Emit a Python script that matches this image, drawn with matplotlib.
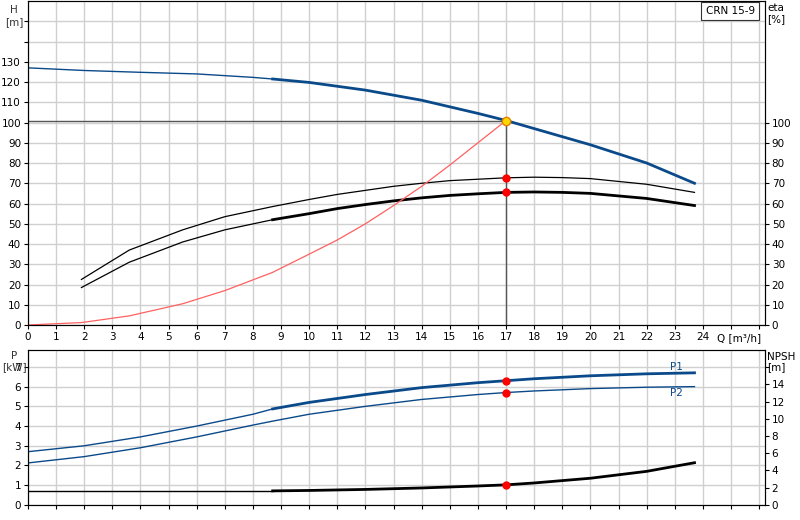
import matplotlib
matplotlib.use("Agg")
import matplotlib.pyplot as plt

q_h = [0, 2, 4, 6, 8, 8.7, 10, 12, 14, 16, 17, 18, 20, 22, 23.7]
h = [127, 125.7, 124.8, 124, 122.3, 121.5, 119.8, 116, 111, 104.5, 101, 97, 89, 80, 70]
q_e = [1.9, 3.6, 5.5, 7, 8.7, 10, 11, 12, 13, 14, 15, 16, 17, 18, 19, 20, 22, 23.7]
eta_lo = [18.5, 31, 41, 47, 52, 55, 57.5, 59.5, 61.3, 62.8, 64, 64.8, 65.5, 65.7, 65.5, 65, 62.5, 59]
eta_hi = [22.5, 37, 47, 53.5, 58.5, 62, 64.5, 66.5, 68.5, 70, 71.3, 72, 72.7, 73, 72.8, 72.3, 69.5, 65.5]
q_s = [0, 1.9, 3.6, 5.5, 7, 8.7, 10, 11, 12, 13, 14, 15, 16, 17]
sys_h = [0, 1.2, 4.5, 10.5, 17, 26, 35, 42, 50, 59, 68.5, 79, 90, 101]
q_p = [0, 2, 4, 6, 8, 8.7, 10, 12, 14, 16, 17, 18, 20, 22, 23.7]
p1 = [2.7, 3.0, 3.45, 4.0, 4.6, 4.87, 5.2, 5.6, 5.95, 6.2, 6.3, 6.4, 6.55, 6.65, 6.7]
p2 = [2.13, 2.45, 2.9, 3.45, 4.05, 4.25, 4.6, 5.0, 5.35, 5.6, 5.7, 5.78, 5.9, 5.97, 6.0]
q_n = [0, 8.7, 10, 12, 14, 16, 17, 18, 20, 22, 23.7]
npsh = [1.63, 1.63, 1.68, 1.8, 1.97, 2.2, 2.33, 2.55, 3.1, 3.9, 4.9]
q_op = 17
h_op = 101

blue = "#0b4a8a"
fig = plt.figure(figsize=(8, 5.2), dpi=100)
ax = fig.add_axes([0.035, 0.375, 0.921, 0.623])
bx = fig.add_axes([0.035, 0.029, 0.921, 0.298])
for a in (ax, bx):
    a.set_xlim(0, 26.2)
    a.set_xticks(range(0, 27))
    a.grid(True, color="#d0d0d0", lw=1)
    a.set_axisbelow(True)
    a.tick_params(labelsize=7.5, length=3, pad=2)
    for s in a.spines.values():
        s.set_color("#333333")

def split(x, y, b):
    i = x.index(b)
    return (x[:i+1], y[:i+1]), (x[i:], y[i:])

ax.set_ylim(0, 160)
ax.set_yticks(range(0, 151, 10))
ax.set_yticklabels([str(v) if v <= 130 else "" for v in range(0, 151, 10)])
ax.set_xticklabels([str(v) if v <= 24 else "" for v in range(27)])
ax.text(25.3, -4, "Q [m³/h]", fontsize=7.5, ha="center", va="top")
(a1, b1), (a2, b2) = split(q_h, h, 8.7)
ax.plot(a1, b1, color=blue, lw=1)
ax.plot(a2, b2, color=blue, lw=2)
ax.plot(q_e, eta_hi, color="black", lw=0.9)
(a1, b1), (a2, b2) = split(q_e, eta_lo, 8.7)
ax.plot(a1, b1, color="black", lw=0.9)
ax.plot(a2, b2, color="black", lw=2)
ax.plot(q_s, sys_h, color="#ff6060", lw=0.9)
ax.plot([0, q_op], [h_op, h_op], color="#555555", lw=1)
ax.plot([q_op, q_op], [0, h_op], color="#555555", lw=1)
ax.plot([q_op], [h_op], "o", color="#ffd700", mec="#e08000", ms=6, zorder=5)
ax.plot([q_op, q_op], [72.7, 65.5], "o", color="red", ms=5, zorder=5)
ax.text(-0.5, 158, "H\n[m]", fontsize=7.5, ha="center", va="top", color="#333333")
ax2 = ax.twinx()
ax2.set_ylim(0, 160)
ax2.set_yticks(range(0, 101, 10))
ax2.tick_params(labelsize=7.5, length=3, pad=2)
ax2.text(1.003, 0.995, "eta\n[%]", transform=ax.transAxes, fontsize=7.5, va="top", ha="left")
ax.text(0.953, 0.985, "CRN 15-9", transform=ax.transAxes, fontsize=7.5, ha="center", va="top",
        bbox=dict(boxstyle="square,pad=0.4", fc="white", ec="#333333", lw=0.8))

bx.set_ylim(0, 7.86)
bx.set_yticks(range(0, 8))
bx.set_xticklabels([])
(a1, b1), (a2, b2) = split(q_p, p1, 8.7)
bx.plot(a1, b1, color=blue, lw=1)
bx.plot(a2, b2, color=blue, lw=2)
bx.plot(q_p, p2, color=blue, lw=1)
bx.text(23.3, 7.0, "P1", color=blue, fontsize=7.5, ha="right", va="center")
bx.text(23.3, 5.7, "P2", color=blue, fontsize=7.5, ha="right", va="center")
bx.plot([q_op, q_op], [p1[q_p.index(q_op)], p2[q_p.index(q_op)]], "o", color="red", ms=5, zorder=5)
bx.text(-0.5, 7.8, "P\n[kW]", fontsize=7.5, ha="center", va="top", color="#333333", linespacing=1.1)
bx2 = bx.twinx()
bx2.set_ylim(0, 18)
bx2.set_yticks(range(0, 17, 2))
bx2.set_yticklabels([str(v) if v <= 14 else "" for v in range(0, 17, 2)])
bx2.tick_params(labelsize=7.5, length=3, pad=2)
(a1, b1), (a2, b2) = split(q_n, npsh, 8.7)
bx2.plot(a1, b1, color="black", lw=1)
bx2.plot(a2, b2, color="black", lw=2)
bx2.plot([q_op], [npsh[q_n.index(q_op)]], "o", color="red", ms=5, zorder=5)
bx2.text(1.003, 0.99, "NPSH\n[m]", transform=bx.transAxes, fontsize=7.5, va="top", ha="left", linespacing=1.1)

fig.savefig("out.png", dpi=100)
